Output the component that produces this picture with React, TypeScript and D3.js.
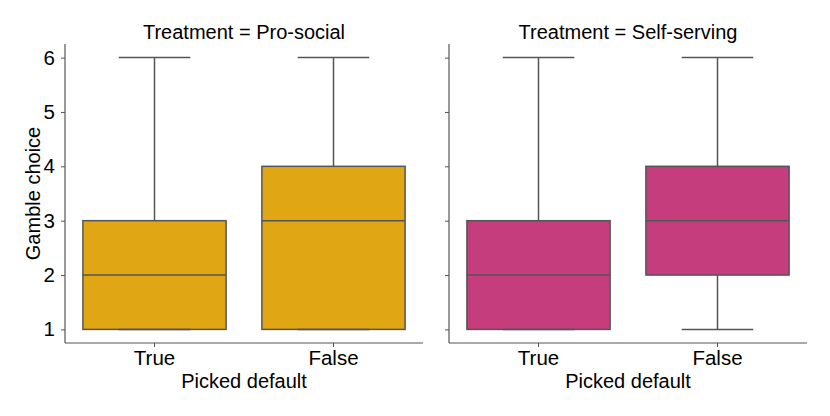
import React, { useEffect, useRef } from "react";
import * as d3 from "d3";

const panels = ["Pro-social", "Self-serving"];
const categories = ["True", "False"];
const colors = ["#e1a614", "#c53d7c"];
// [min, q1, median, q3, max] per panel, per category
const boxStats = [
  [[1, 1, 2, 3, 6], [1, 1, 3, 4, 6]],
  [[1, 1, 2, 3, 6], [1, 2, 3, 4, 6]],
];
const yTicks = [1, 2, 3, 4, 5, 6];

const App = () => {
  const svgRef = useRef<SVGSVGElement>(null);

  useEffect(() => {
    const svg = d3.select(svgRef.current);
    svg.selectAll("*").remove();

    const width = 830, height = 416;
    const top = 44, bottom = 343;
    const panelX = [65, 449];
    const panelW = 358;
    const font = "Liberation Sans, Arial, Helvetica, sans-serif";
    const edge = "#555555";

    const y = d3.scaleLinear().domain([0.75, 6.25]).range([bottom, top]);

    panels.forEach((p, pi) => {
      const x0 = panelX[pi];
      const x = d3.scaleBand().domain(categories).range([x0, x0 + panelW]).paddingInner(0.2).paddingOuter(0.1);
      const g = svg.append("g");

      // boxes
      categories.forEach((c, ci) => {
        const [mn, q1, med, q3, mx] = boxStats[pi][ci];
        const bx = x(c)!;
        const bw = x.bandwidth();
        const cx = bx + bw / 2;
        // whiskers
        g.append("line").attr("x1", cx).attr("x2", cx).attr("y1", y(q3)).attr("y2", y(mx))
          .attr("stroke", edge).attr("stroke-width", 1.5);
        g.append("line").attr("x1", cx).attr("x2", cx).attr("y1", y(q1)).attr("y2", y(mn))
          .attr("stroke", edge).attr("stroke-width", 1.5);
        g.append("rect").attr("x", bx).attr("y", y(q3)).attr("width", bw).attr("height", y(q1) - y(q3))
          .attr("fill", colors[pi]).attr("stroke", edge).attr("stroke-width", 1.5);
        g.append("line").attr("x1", bx).attr("x2", bx + bw).attr("y1", y(med)).attr("y2", y(med))
          .attr("stroke", edge).attr("stroke-width", 1.5);
        // caps
        [mn, mx].forEach(v => {
          g.append("line").attr("x1", cx - bw / 4).attr("x2", cx + bw / 4).attr("y1", y(v)).attr("y2", y(v))
            .attr("stroke", edge).attr("stroke-width", 1.5);
        });
      });

      // axes
      const ya = g.append("g").attr("transform", `translate(${x0},0)`)
        .call(d3.axisLeft(y).tickValues(yTicks).tickSize(4).tickPadding(6).tickFormat(pi === 0 ? d3.format("d") : () => ""));
      const xa = g.append("g").attr("transform", `translate(0,${bottom})`)
        .call(d3.axisBottom(x).tickSize(4).tickPadding(3));
      [ya, xa].forEach(a => {
        a.select(".domain").attr("stroke", edge).attr("stroke-width", 1.2);
        a.selectAll(".tick line").attr("stroke", edge);
        a.selectAll("text").attr("fill", "#000").style("font-family", font).style("font-size", "20.5px");
      });
      // trim domain path end ticks
      ya.select(".domain").attr("d", `M0,${top}V${bottom}`);
      xa.select(".domain").attr("d", `M${x0},0H${x0 + panelW}`);

      g.append("text").attr("x", x0 + panelW / 2).attr("y", 39).attr("text-anchor", "middle")
        .style("font-family", font).style("font-size", "20px").text(`Treatment = ${p}`);
      g.append("text").attr("x", x0 + panelW / 2).attr("y", 388).attr("text-anchor", "middle")
        .style("font-family", font).style("font-size", "20px").text("Picked default");
    });

    svg.append("text").attr("transform", `translate(40,${(top + bottom) / 2}) rotate(-90)`)
      .attr("text-anchor", "middle").style("font-family", font).style("font-size", "20px").text("Gamble choice");

    svg.attr("width", width).attr("height", height);
  }, []);

  return <svg ref={svgRef} width={830} height={416} style={{ position: "absolute", left: 0, top: 0 }}></svg>;
};

export default App;
